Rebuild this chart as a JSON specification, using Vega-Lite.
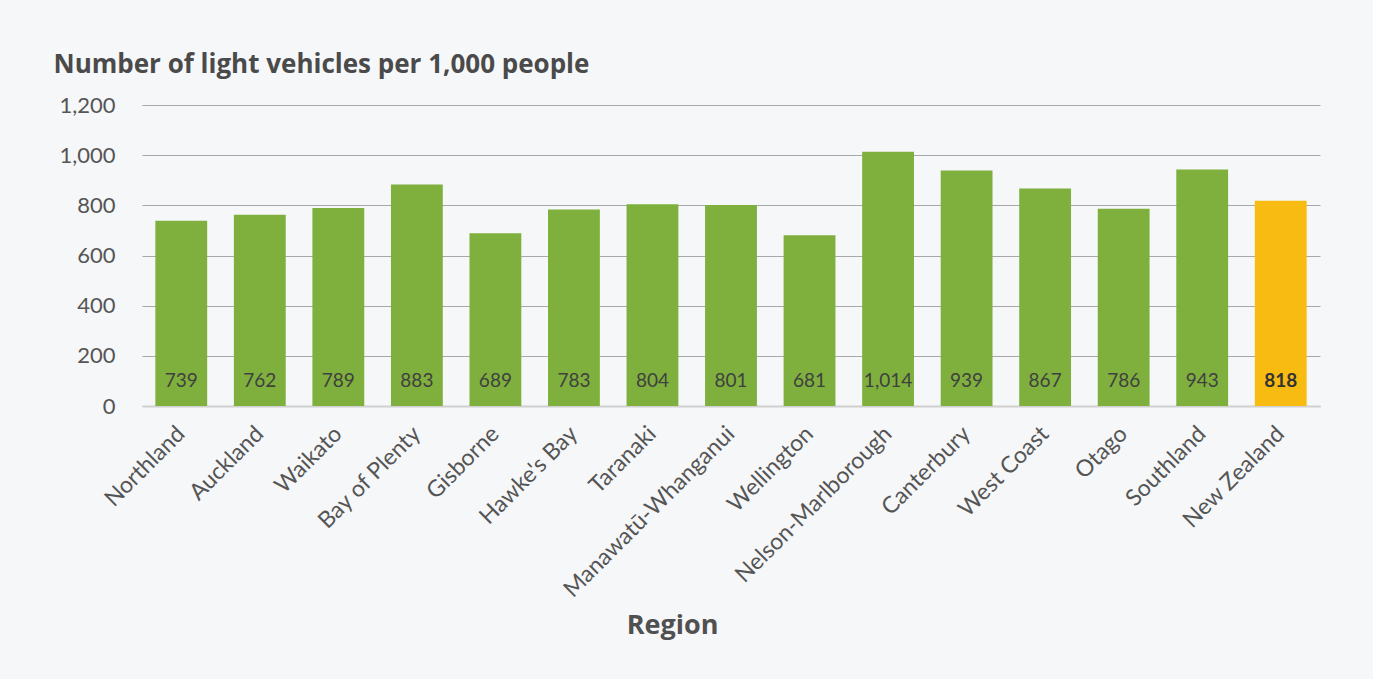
{
  "$schema": "https://vega.github.io/schema/vega-lite/v6.json",
  "width": 1178,
  "height": 301,
  "autosize": {"type": "none"},
  "padding": {"left": 142, "top": 105, "right": 53, "bottom": 273},
  "background": "#f6f7f9",
  "config": {
    "view": {"stroke": null},
    "font": "Lato",
    "axis": {"labelFont": "Lato", "titleFont": "Open Sans"}
  },
  "data": {
    "values": [
      {"region": "Northland", "value": 739, "nz": "no"},
      {"region": "Auckland", "value": 762, "nz": "no"},
      {"region": "Waikato", "value": 789, "nz": "no"},
      {"region": "Bay of Plenty", "value": 883, "nz": "no"},
      {"region": "Gisborne", "value": 689, "nz": "no"},
      {"region": "Hawke's Bay", "value": 783, "nz": "no"},
      {"region": "Taranaki", "value": 804, "nz": "no"},
      {"region": "Manawatū-Whanganui", "value": 801, "nz": "no"},
      {"region": "Wellington", "value": 681, "nz": "no"},
      {"region": "Nelson-Marlborough", "value": 1014, "nz": "no"},
      {"region": "Canterbury", "value": 939, "nz": "no"},
      {"region": "West Coast", "value": 867, "nz": "no"},
      {"region": "Otago", "value": 786, "nz": "no"},
      {"region": "Southland", "value": 943, "nz": "no"},
      {"region": "New Zealand", "value": 818, "nz": "yes"}
    ]
  },
  "encoding": {
    "x": {
      "field": "region",
      "type": "nominal",
      "sort": null,
      "scale": {"paddingInner": 0.34, "paddingOuter": 0.17},
      "axis": {
        "title": "Region",
        "titleFontSize": 27,
        "titleFontWeight": "bold",
        "titleColor": "#505050",
        "titleX": 530,
        "titleY": 227,
        "titleBaseline": "alphabetic",
        "titleAnchor": "middle",
        "titleAlign": "center",
        "labelAngle": -45,
        "labelAlign": "right",
        "labelBaseline": "middle",
        "labelFontSize": 23,
        "labelColor": "#555555",
        "labelPadding": 24,
        "labelLimit": 0,
        "ticks": false,
        "domain": true,
        "domainColor": "#d0d0d0",
        "domainWidth": 2,
        "grid": false
      }
    },
    "y": {
      "field": "value",
      "type": "quantitative",
      "scale": {"domain": [0, 1200]},
      "axis": {
        "values": [0, 200, 400, 600, 800, 1000, 1200],
        "format": ",d",
        "title": "Number of light vehicles per 1,000 people",
        "titleAngle": 0,
        "titleX": -89,
        "titleY": -33,
        "titleAlign": "left",
        "titleBaseline": "alphabetic",
        "titleFontSize": 26,
        "titleFontWeight": "bold",
        "titleColor": "#4a4a4a",
        "labelFontSize": 22,
        "labelColor": "#555555",
        "labelPadding": 27,
        "ticks": false,
        "domain": false,
        "grid": true,
        "gridColor": "#a8a8a8",
        "gridWidth": 1
      }
    }
  },
  "layer": [
    {
      "mark": {"type": "bar"},
      "encoding": {
        "color": {
          "field": "nz",
          "type": "nominal",
          "scale": {"domain": ["no", "yes"], "range": ["#7fb03d", "#f8bb11"]},
          "legend": null
        }
      }
    },
    {
      "transform": [{"filter": "datum.nz == 'no'"}],
      "mark": {"type": "text", "baseline": "alphabetic", "fontSize": 19, "color": "#404040", "font": "Lato"},
      "encoding": {
        "y": {"datum": 75},
        "text": {"field": "value", "type": "quantitative", "format": ",d"}
      }
    },
    {
      "transform": [{"filter": "datum.nz == 'yes'"}],
      "mark": {"type": "text", "baseline": "alphabetic", "fontSize": 19, "fontWeight": "bold", "color": "#333333", "font": "Lato"},
      "encoding": {
        "y": {"datum": 75},
        "text": {"field": "value", "type": "quantitative", "format": ",d"}
      }
    }
  ]
}
